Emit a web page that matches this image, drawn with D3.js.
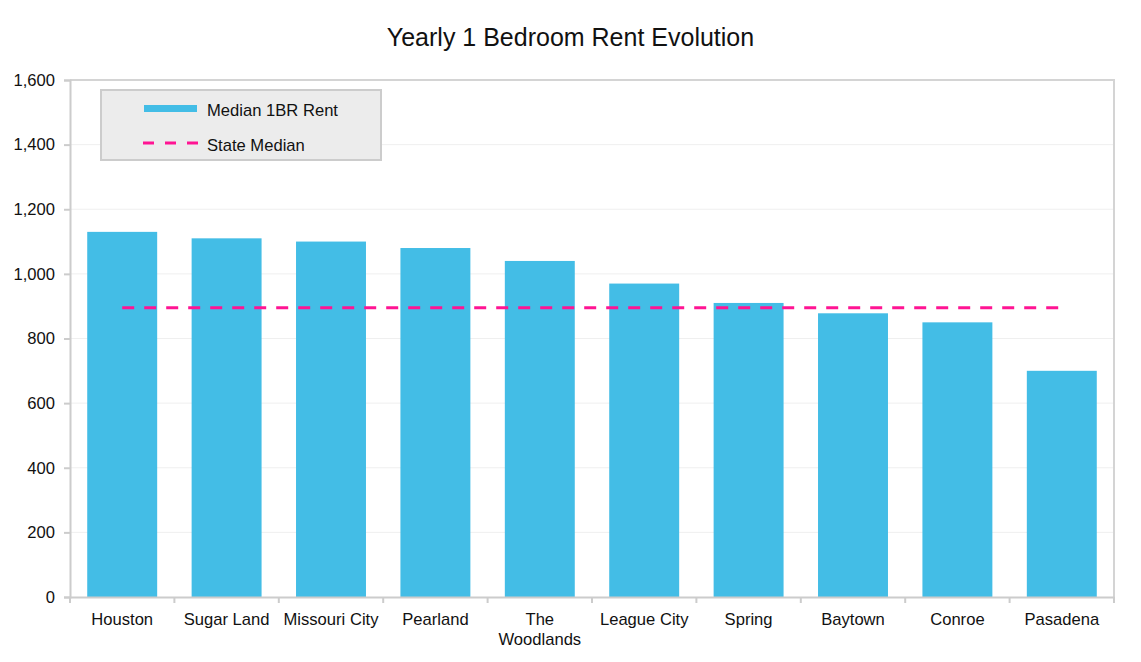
<!DOCTYPE html>
<html>
<head>
<meta charset="utf-8">
<script src="https://cdn.jsdelivr.net/npm/d3@7"></script>
<style>
  body { margin: 0; background: #fff; font-family: "Liberation Sans", Arial, sans-serif; }
  svg text { fill: #111; }
</style>
</head>
<body>
<svg id="chart" width="1141" height="662"></svg>
<script>
// chart data
var cities = ["Houston", "Sugar Land", "Missouri City", "Pearland", "The Woodlands",
              "League City", "Spring", "Baytown", "Conroe", "Pasadena"];
var medianRent = [1130, 1110, 1100, 1080, 1040, 970, 910, 878, 850, 700];
var stateMedian = 895;
var yTicks = [0, 200, 400, 600, 800, 1000, 1200, 1400, 1600];

var margin = {top: 80, right: 27, bottom: 65, left: 70};
var width = 1141 - margin.left - margin.right,
    height = 662 - margin.top - margin.bottom;

var svg = d3.select('#chart');
var g = svg.append('g').attr('transform', 'translate(' + margin.left + ',' + margin.top + ')');

var x = d3.scaleBand().domain(cities).range([0, width]).paddingInner(0.33).paddingOuter(0.165);
var xOuter = d3.scaleBand().domain(cities).range([0, width]);
var y = d3.scaleLinear().domain([0, 1600]).range([height, 0]);

// title
svg.append('text')
  .attr('x', 1141 / 2).attr('y', 46)
  .attr('text-anchor', 'middle')
  .style('font-size', '25px')
  .text('Yearly 1 Bedroom Rent Evolution');

// grid lines
g.selectAll('.grid').data(yTicks.slice(1, -1)).enter().append('line')
  .attr('x1', 0).attr('x2', width)
  .attr('y1', function(d){ return y(d); }).attr('y2', function(d){ return y(d); })
  .attr('stroke', '#efefef').attr('stroke-width', 1);

// frame (top and right)
g.append('path')
  .attr('d', 'M0,0H' + width + 'V' + height)
  .attr('fill', 'none').attr('stroke', '#d4d4d4').attr('stroke-width', 2);

// bars
g.selectAll('.bar').data(medianRent).enter().append('rect')
  .attr('x', function(d, i){ return x(cities[i]); })
  .attr('width', x.bandwidth())
  .attr('y', function(d){ return y(d); })
  .attr('height', function(d){ return height - y(d); })
  .attr('fill', '#43bde6');

// state median dashed line
g.append('line')
  .attr('x1', x(cities[0]) + x.bandwidth() / 2)
  .attr('x2', x(cities[cities.length - 1]) + x.bandwidth() / 2)
  .attr('y1', y(stateMedian)).attr('y2', y(stateMedian))
  .attr('stroke', '#ff1493').attr('stroke-width', 3)
  .attr('stroke-dasharray', '12,10');

// y axis
var yAxis = g.append('g')
  .call(d3.axisLeft(y).tickValues(yTicks).tickFormat(d3.format(',')).tickSize(6).tickPadding(9));
yAxis.select('.domain').attr('stroke', '#cccccc').attr('stroke-width', 2);
yAxis.selectAll('.tick line').attr('stroke', '#cccccc').attr('stroke-width', 2);
yAxis.selectAll('.tick text').style('font-size', '16.6px').attr('fill', '#111');

// x axis
var xAxis = g.append('g').attr('transform', 'translate(0,' + height + ')')
  .call(d3.axisBottom(x).tickSize(0).tickPadding(16));
xAxis.select('.domain').attr('stroke', '#cccccc').attr('stroke-width', 2);
xAxis.selectAll('.tick text').style('font-size', '16.6px').attr('fill', '#111');
xAxis.selectAll('.tick text').each(function(d){
  if (d === 'The Woodlands') {
    var t = d3.select(this);
    t.text(null);
    t.append('tspan').attr('x', 0).attr('dy', '0.71em').text('The');
    t.append('tspan').attr('x', 0).attr('dy', '1.2em').text('Woodlands');
  }
});
// tick marks on category boundaries
g.selectAll('.xtick').data(cities.concat([null])).enter().append('line')
  .attr('x1', function(d, i){ return i * xOuter.step(); })
  .attr('x2', function(d, i){ return i * xOuter.step(); })
  .attr('y1', height).attr('y2', height + 6)
  .attr('stroke', '#cccccc').attr('stroke-width', 2);

// legend
var legend = svg.append('g').attr('transform', 'translate(101,90)');
legend.append('rect').attr('width', 280).attr('height', 70)
  .attr('fill', '#ececec').attr('stroke', '#cccccc').attr('stroke-width', 2);
legend.append('rect').attr('x', 43).attr('y', 15).attr('width', 53).attr('height', 7).attr('fill', '#43bde6');
legend.append('text').attr('x', 106).attr('y', 26).style('font-size', '16.6px').text('Median 1BR Rent');
legend.append('line').attr('x1', 42).attr('x2', 97).attr('y1', 53).attr('y2', 53)
  .attr('stroke', '#ff1493').attr('stroke-width', 3).attr('stroke-dasharray', '11,11');
legend.append('text').attr('x', 106).attr('y', 61).style('font-size', '16.6px').text('State Median');
</script>
</body>
</html>
